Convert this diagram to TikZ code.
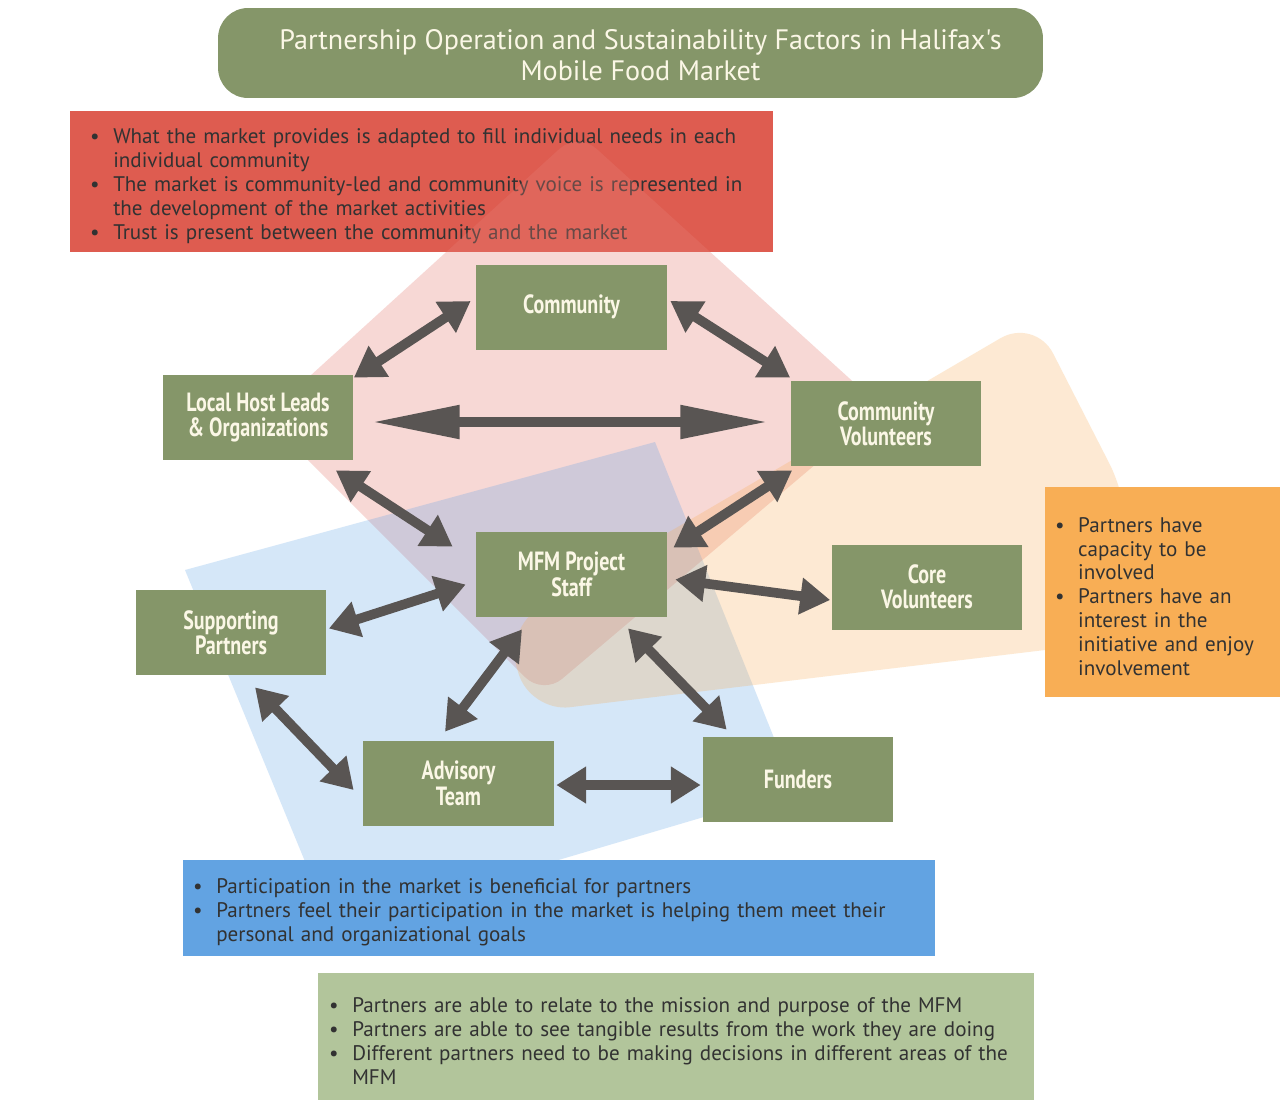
\documentclass[tikz,border=0pt]{standalone}
\usepackage{fontspec}
\setmainfont{PT Sans}
\newfontfamily\labelfont[FakeStretch=0.76]{PT Sans Bold}
\newfontfamily\notefont[FakeStretch=1.0]{PT Sans}
\newfontfamily\headfont[FakeStretch=1.0]{PT Sans}
\usetikzlibrary{arrows.meta}

\definecolor{boxgreen}{RGB}{133,150,105}
\definecolor{labeltext}{RGB}{251,247,230}
\definecolor{notered}{RGB}{222,92,80}
\definecolor{noteorange}{RGB}{248,174,85}
\definecolor{noteblue}{RGB}{98,163,226}
\definecolor{notegreen}{RGB}{178,197,155}
\definecolor{notetext}{RGB}{50,50,50}
\definecolor{arrowgray}{RGB}{89,85,83}
\definecolor{pinkzone}{RGB}{229,127,118}
\definecolor{bluezone}{RGB}{91,160,230}
\definecolor{orangezone}{RGB}{248,170,80}

% bullet line with hanging indent
\newcommand{\bpt}[1]{\par\hangindent=1.1em\hangafter=1\noindent\makebox[1.1em][l]{\textbullet}#1\par}

\tikzset{
  actor/.style={rectangle, fill=boxgreen, text=labeltext, minimum width=3.82cm,
    minimum height=1.7cm, inner sep=0pt, align=center,
    font=\labelfont\fontsize{15pt}{14.5pt}\selectfont},
  notebox/.style={rectangle, text=notetext, inner ysep=0pt, align=left,
    font=\notefont\fontsize{12pt}{13.6pt}\selectfont},
  dbl/.style={line width=5.5pt, color=arrowgray,
    {Triangle[length=17pt,width=20pt]}-{Triangle[length=17pt,width=20pt]}},
  longtip/.style={{Triangle[length=50pt,width=18pt]}-{Triangle[length=50pt,width=18pt]}}
}

\begin{document}
\begin{tikzpicture}[x=0.02cm,y=-0.02cm]
\useasboundingbox (0,0) rectangle (1280,1100);
\fill[white] (0,0) rectangle (1280,1100);

% title
\node (titlebg) [rectangle, rounded corners=0.6cm, fill=boxgreen, minimum width=16.5cm, minimum height=1.8cm] at (630.5,53) {};
\node (title) [text=labeltext, align=center, font=\headfont\fontsize{16pt}{17.6pt}\selectfont] at (640.5,55.5)
  {Partnership Operation and Sustainability Factors in Halifax's\\Mobile Food Market};

% community factors
\node (marketnote) [notebox, fill=notered, inner xsep=0.4cm, text width=13.26cm, minimum height=2.82cm] at (421.5,181.5)
  {\bpt{What the market provides is adapted to fill individual needs in each\newline individual community}
   \bpt{The market is community-led and community voice is represented in\newline the development of the market activities}
   \bpt{Trust is present between the community and the market}};

% overlapping zones
\fill[pinkzone, fill opacity=0.3, rounded corners=0.5cm] (578,132) -- (882,408) -- (543,695) -- (265,417) -- cycle;
\fill[bluezone, fill opacity=0.25] (185,570) -- (655,442) -- (795,790) -- (332,927) -- cycle;
\fill[orangezone, fill opacity=0.25, rounded corners=0.8cm] (530,712) -- (1128,640) -- (1128,500) -- (1035,318) -- (505,628) -- cycle;

% other factors
\node (capnote) [notebox, fill=noteorange, inner xsep=0.2cm, text width=4.3cm, minimum height=4.2cm] at (1162.5,592)
  {\bpt{Partners have\newline capacity to be\newline involved}
   \bpt{Partners have an\newline interest in the\newline initiative and enjoy\newline involvement}};
\node (benefitnote) [notebox, fill=noteblue, inner xsep=0.2cm, text width=14.64cm, minimum height=1.92cm] at (559,908)
  {\bpt{Participation in the market is beneficial for partners}
   \bpt{Partners feel their participation in the market is helping them meet their\newline personal and organizational goals}};
\node (missionnote) [notebox, fill=notegreen, inner xsep=0.22cm, text width=13.88cm, minimum height=2.54cm] at (676,1036.5)
  {\bpt{Partners are able to relate to the mission and purpose of the MFM}
   \bpt{Partners are able to see tangible results from the work they are doing}
   \bpt{Different partners need to be making decisions in different areas of the\newline MFM}};

% partners
\node (comm) [actor] at (571.5,307) {Community};
\node (local) [actor] at (258,417.5) {Local Host Leads\\\& Organizations};
\node (cvol) [actor] at (886,423.5) {Community\\Volunteers};
\node (mfm) [actor] at (571.5,574.5) {MFM Project\\Staff};
\node (core) [actor] at (927,587) {Core\\Volunteers};
\node (supp) [actor] at (231,632.5) {Supporting\\Partners};
\node (adv) [actor] at (458.5,783.5) {Advisory\\Team};
\node (fund) [actor] at (798,779.5) {Funders};

\path [dbl]
  ([shift={(-5,-6)}]comm.west) edge ([shift={(0,3)}]local.north east)
  ([shift={(3,-6)}]comm.east) edge ([shift={(0,-3)}]cvol.north west)
  ([shift={(18,4.5)}]local.east) edge[longtip] ([shift={(-22,-1.5)}]cvol.west)
  ([shift={(-18,10)}]local.south east) edge ([shift={(-23,15)}]mfm.north west)
  ([shift={(2,4)}]cvol.south west) edge ([shift={(6,16)}]mfm.north east)
  ([shift={(2,-4)}]supp.east) edge ([shift={(-10,10)}]mfm.west)
  ([shift={(8,5)}]mfm.east) edge ([shift={(-1,13)}]core.west)
  ([shift={(-49.5,12)}]mfm.south) edge ([shift={(-13.5,-9)}]adv.north)
  ([shift={(56.5,11)}]mfm.south) edge ([shift={(24.5,-7)}]fund.north west)
  ([shift={(24,12)}]supp.south) edge ([shift={(-9,6.5)}]adv.west)
  ([shift={(2,1.5)}]adv.east) edge ([shift={(-1.5,5.5)}]fund.west);
\end{tikzpicture}
\end{document}
